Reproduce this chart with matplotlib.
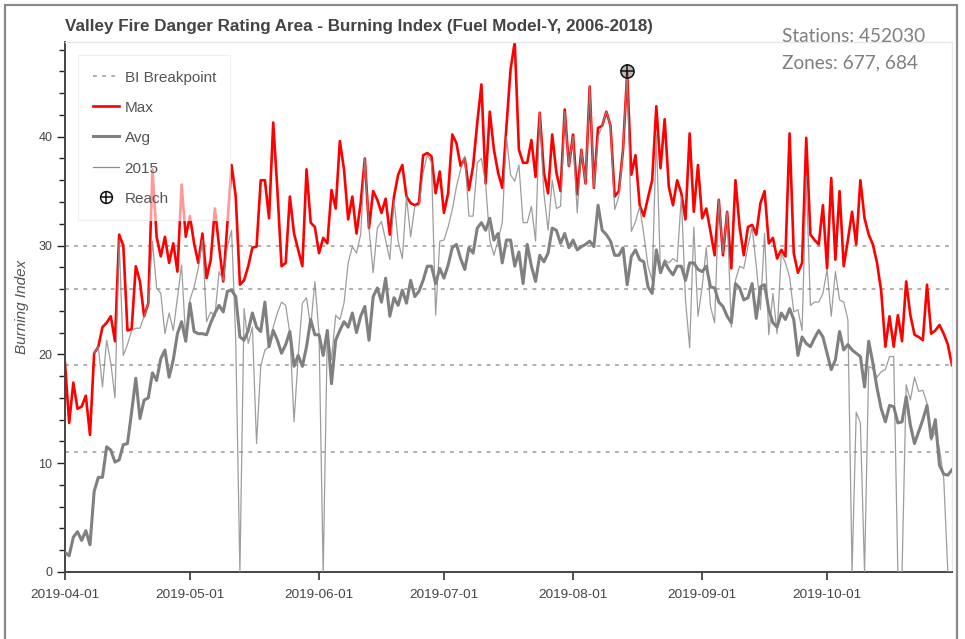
import numpy as np
import pandas as pd
import matplotlib
matplotlib.use("Agg")
import matplotlib.pyplot as plt
import matplotlib.dates as mdates
from matplotlib.lines import Line2D
from matplotlib.legend_handler import HandlerTuple
from matplotlib.patches import Rectangle
from matplotlib.ticker import MultipleLocator

plt.rcParams['font.family'] = ['Liberation Sans', 'DejaVu Sans']

# daily values, 2019-04-01 .. 2019-10-31
dates = pd.date_range("2019-04-01", "2019-10-31", freq="D")

max_bi = [
    19.2, 13.7, 17.4, 15.0, 15.2, 16.2, 12.6, 20.1, 20.7, 22.5,
    22.9, 23.5, 21.2, 31.0, 30.0, 22.2, 22.3, 28.1, 26.7, 23.5,
    24.7, 37.0, 30.8, 29.0, 30.8, 28.4, 30.2, 27.6, 35.6, 30.8,
    32.7, 30.2, 28.4, 31.1, 27.0, 28.7, 33.4, 29.9, 26.7, 32.1,
    37.4, 34.5, 26.4, 26.8, 28.1, 29.8, 29.9, 36.0, 36.0, 32.5,
    41.3, 35.1, 28.1, 28.4, 34.5, 31.1, 29.6, 28.1, 37.0, 32.1,
    31.7, 29.3, 30.7, 30.2, 35.1, 33.4, 39.6, 37.0, 32.4, 34.5,
    31.1, 33.9, 38.0, 31.6, 35.0, 34.2, 33.0, 34.3, 31.0, 34.5,
    36.5, 37.4, 34.5, 33.9, 33.7, 33.9, 38.3, 38.5, 38.2, 34.8,
    36.8, 33.0, 34.8, 40.2, 39.4, 37.3, 38.0, 35.1, 37.3, 41.3,
    44.8, 35.7, 42.3, 38.8, 36.7, 35.3, 40.9, 46.2, 48.7, 38.8,
    37.6, 37.6, 39.7, 36.3, 42.2, 36.7, 34.8, 40.2, 36.7, 35.0,
    42.5, 37.3, 40.2, 34.7, 38.8, 35.7, 44.6, 35.3, 40.8, 41.0,
    42.3, 41.0, 34.5, 35.0, 38.8, 45.9, 36.5, 38.3, 33.7, 32.7,
    34.4, 36.0, 42.8, 37.1, 41.6, 35.4, 33.7, 36.0, 34.8, 32.4,
    40.3, 33.1, 37.4, 32.5, 33.4, 31.3, 29.1, 34.2, 29.1, 33.1,
    27.9, 36.0, 31.7, 29.1, 31.7, 31.9, 31.0, 33.9, 35.0, 30.2,
    30.7, 28.8, 29.6, 29.0, 40.3, 29.3, 27.5, 28.4, 39.9, 31.0,
    30.5, 30.1, 33.7, 27.9, 36.2, 28.7, 35.0, 28.1, 30.5, 33.1,
    30.1, 36.0, 32.5, 31.0, 30.1, 28.4, 25.8, 20.7, 23.5, 20.7,
    23.6, 21.2, 26.7, 23.6, 21.8, 21.6, 21.3, 26.4, 21.9, 22.2,
    22.7, 21.9, 20.9, 19.0,
]

avg_bi = [
    1.8, 1.5, 3.2, 3.7, 2.9, 3.8, 2.5, 7.4, 8.7, 8.7,
    11.5, 11.2, 10.1, 10.3, 11.7, 11.8, 14.7, 17.8, 14.1, 15.8,
    16.0, 18.3, 17.6, 19.6, 20.4, 17.9, 19.5, 21.9, 23.0, 21.2,
    24.7, 22.1, 21.9, 21.9, 21.8, 22.9, 23.8, 24.5, 23.9, 25.8,
    25.9, 25.3, 21.6, 21.3, 22.2, 23.8, 22.5, 22.1, 24.8, 20.7,
    22.2, 21.3, 20.1, 20.9, 22.1, 18.9, 19.9, 18.9, 20.7, 23.2,
    21.8, 21.8, 19.9, 22.2, 17.3, 21.3, 22.2, 23.0, 22.5, 23.8,
    22.0, 23.5, 24.4, 21.3, 25.3, 26.1, 24.8, 27.0, 23.5, 25.2,
    24.5, 25.9, 24.7, 26.8, 25.3, 25.8, 26.8, 28.1, 28.1, 26.5,
    27.9, 27.0, 28.2, 29.8, 30.1, 28.8, 27.8, 29.8, 29.3, 31.6,
    32.1, 31.4, 32.5, 30.5, 31.1, 28.4, 30.5, 30.5, 28.1, 29.4,
    26.5, 30.1, 28.1, 26.7, 29.1, 28.5, 29.3, 31.6, 31.4, 30.2,
    31.1, 29.8, 30.5, 29.6, 29.9, 30.1, 30.4, 29.9, 33.7, 31.4,
    31.0, 30.4, 29.1, 29.1, 29.8, 26.4, 29.0, 29.6, 28.7, 28.5,
    26.2, 25.6, 29.6, 27.5, 28.5, 27.8, 27.3, 28.1, 28.1, 26.8,
    28.4, 28.4, 27.8, 27.6, 28.1, 26.2, 26.1, 24.8, 24.4, 23.5,
    22.9, 26.5, 26.1, 25.0, 25.2, 26.5, 23.3, 26.2, 26.4, 24.1,
    22.9, 22.5, 23.8, 23.2, 24.2, 23.2, 19.9, 21.6, 21.0, 20.7,
    21.5, 22.2, 21.6, 20.1, 18.6, 19.5, 22.1, 20.4, 20.9, 20.4,
    20.1, 19.8, 17.0, 21.2, 19.2, 16.9, 15.0, 13.8, 15.3, 15.2,
    13.7, 13.8, 16.1, 13.5, 11.8, 12.9, 14.0, 15.3, 12.3, 14.0,
    9.8, 9.0, 8.9, 9.4,
]

bi_2015 = [
    np.nan, np.nan, np.nan, np.nan, np.nan, np.nan, np.nan, 20.1, 20.7, 17.0,
    21.3, 19.2, 16.0, 30.5, 19.9, 20.9, 22.2, 22.4, 22.4, 23.5,
    24.7, 30.4, 26.1, 25.6, 21.9, 23.8, 22.2, 25.2, 28.2, 21.3,
    25.0, 26.2, 27.9, 30.5, 23.0, 23.9, 23.5, 27.6, 26.8, 29.9,
    31.4, 21.3, 0.0, 24.2, 21.0, 22.5, 11.8, 18.9, 20.4, 20.7,
    22.5, 23.8, 24.8, 24.5, 21.9, 13.8, 19.8, 24.7, 25.2, 22.5,
    26.7, 21.9, 0.0, 22.2, 19.5, 23.6, 23.2, 24.7, 28.4, 29.9,
    29.3, 31.0, 38.0, 31.6, 27.5, 31.6, 32.2, 30.5, 28.7, 34.2,
    30.4, 28.8, 34.5, 30.8, 33.6, 33.7, 36.7, 38.3, 37.7, 23.6,
    30.4, 30.5, 31.7, 33.3, 35.4, 37.0, 38.2, 32.7, 32.7, 37.6,
    38.0, 35.7, 30.5, 29.1, 30.5, 32.1, 40.0, 36.5, 35.9, 37.4,
    32.1, 32.1, 33.6, 30.4, 42.2, 34.8, 31.4, 36.0, 33.4, 33.6,
    42.3, 37.3, 40.0, 33.0, 38.8, 35.7, 44.6, 35.3, 40.0, 41.0,
    42.3, 41.0, 33.3, 34.5, 38.8, 45.9, 31.3, 32.2, 33.6, 31.0,
    28.1, 26.8, 40.2, 27.5, 28.7, 28.4, 28.8, 28.5, 34.5, 25.0,
    20.6, 31.7, 23.5, 26.2, 29.8, 24.4, 22.9, 34.2, 29.3, 33.1,
    22.5, 26.8, 28.1, 27.9, 29.9, 31.7, 28.1, 24.1, 31.1, 21.8,
    25.6, 21.9, 29.3, 28.4, 27.1, 23.9, 24.1, 22.2, 36.3, 24.5,
    24.8, 24.8, 25.6, 27.8, 23.5, 27.6, 25.0, 24.8, 23.2, 0.0,
    14.7, 13.7, 0.0, 18.9, 18.7, 17.9, 18.4, 18.6, 19.8, 19.8,
    0.0, 0.0, 17.2, 15.8, 17.9, 16.6, 16.7, 15.5, 12.1, 12.9,
    11.3, 8.7, 0.0, 0.0,
]

breakpoints = [11, 19, 26, 30]
reach_date = pd.Timestamp("2019-08-14")
reach_value = 46
tick_dates = pd.date_range("2019-04-01", "2019-10-01", freq="MS")

fig = plt.figure(figsize=(9.65, 6.39), dpi=100)
ax = fig.add_axes([65 / 965, 67 / 639, 887 / 965, 530 / 639])

dot_style = (0, (2.5, 3.5))
for bp in breakpoints:
    ax.axhline(bp, color='#9a9a9a', lw=1.1, ls=dot_style, zorder=1)

ax.plot(dates, max_bi, color='#ff0000', lw=1.9, zorder=2)
ax.plot(dates, bi_2015, color='#8c8c8c', lw=0.9, alpha=0.85, zorder=3)
ax.plot(dates, avg_bi, color='#808080', lw=2.2, zorder=4)

ax.plot([reach_date], [reach_value], marker='o', ms=9.5, mfc=(0.55, 0.55, 0.55, 0.6),
        mec='#111111', mew=1.1, zorder=6)
ax.plot([reach_date], [reach_value], marker='+', ms=9.5, color='#111111', mew=1.1, zorder=7)

ax.set_xlim(dates[0], dates[-1])
ax.set_ylim(0, 48.7)

ax.set_xticks(tick_dates)
ax.xaxis.set_major_formatter(mdates.DateFormatter('%Y-%m-%d'))
ax.yaxis.set_major_locator(MultipleLocator(10))
ax.yaxis.set_minor_locator(MultipleLocator(2))

ax.tick_params(axis='x', which='major', direction='out', length=6, width=1.1,
               color='#222222', labelsize=9.7, labelcolor='#444444', pad=6)
ax.tick_params(axis='y', which='major', direction='out', length=6, width=1.0,
               color='#222222', labelsize=9, labelcolor='#444444', pad=3)
ax.tick_params(axis='y', which='minor', direction='out', length=4.3, width=1.0,
               color='#222222')

for side in ['left', 'bottom']:
    ax.spines[side].set_color('#444444')
    ax.spines[side].set_linewidth(1.4)
for side in ['top', 'right']:
    ax.spines[side].set_color('#e8e8e8')
    ax.spines[side].set_linewidth(1.0)

ax.set_ylabel('Burning Index', fontstyle='italic', fontsize=11, color='#555555')
ax.yaxis.set_label_coords(-0.041, 0.5)

handles = [
    Line2D([], [], color='#9a9a9a', lw=1.1, ls=dot_style),
    Line2D([], [], color='#ff0000', lw=1.9),
    Line2D([], [], color='#808080', lw=2.2),
    Line2D([], [], color='#8c8c8c', lw=0.9),
    (Line2D([], [], ls='none', marker='o', ms=8.5, mfc='white', mec='#111111', mew=1.1),
     Line2D([], [], ls='none', marker='+', ms=8.5, color='#111111', mew=1.1)),
]
labels = ['BI Breakpoint', 'Max', 'Avg', '2015', 'Reach']
leg = ax.legend(handles, labels, loc='upper left', bbox_to_anchor=(13 / 887, (572 - 55) / 530),
                borderaxespad=0, fontsize=11, labelcolor='#555555', frameon=True,
                fancybox=False, edgecolor='#e6e6e6', framealpha=0.6,
                handlelength=1.75, handletextpad=0.35, labelspacing=1.0, borderpad=0.95,
                handleheight=1.0,
                handler_map={tuple: HandlerTuple(ndivide=1, pad=0)})
leg.get_frame().set_linewidth(0.8)

fig.text(65 / 965, 1 - 27 / 639,
         'Valley Fire Danger Rating Area - Burning Index (Fuel Model-Y, 2006-2018)',
         ha='left', va='center', fontsize=12.25, fontweight='bold', color='#444444')

fig.text(782 / 965, 1 - 37 / 639, 'Stations: 452030', ha='left', va='center',
         fontsize=13.7, color='#7f7f7f', family=['Lato', 'DejaVu Sans'])
fig.text(782 / 965, 1 - 63 / 639, 'Zones: 677, 684', ha='left', va='center',
         fontsize=13.7, color='#7f7f7f', family=['Lato', 'DejaVu Sans'])

fig.add_artist(Rectangle((5 / 965, -0.05), 952 / 965, 1.05 - 4.5 / 639,
                         transform=fig.transFigure, fill=False,
                         edgecolor='#8a8a8a', lw=1.6))

fig.savefig('out.png', dpi=100)
